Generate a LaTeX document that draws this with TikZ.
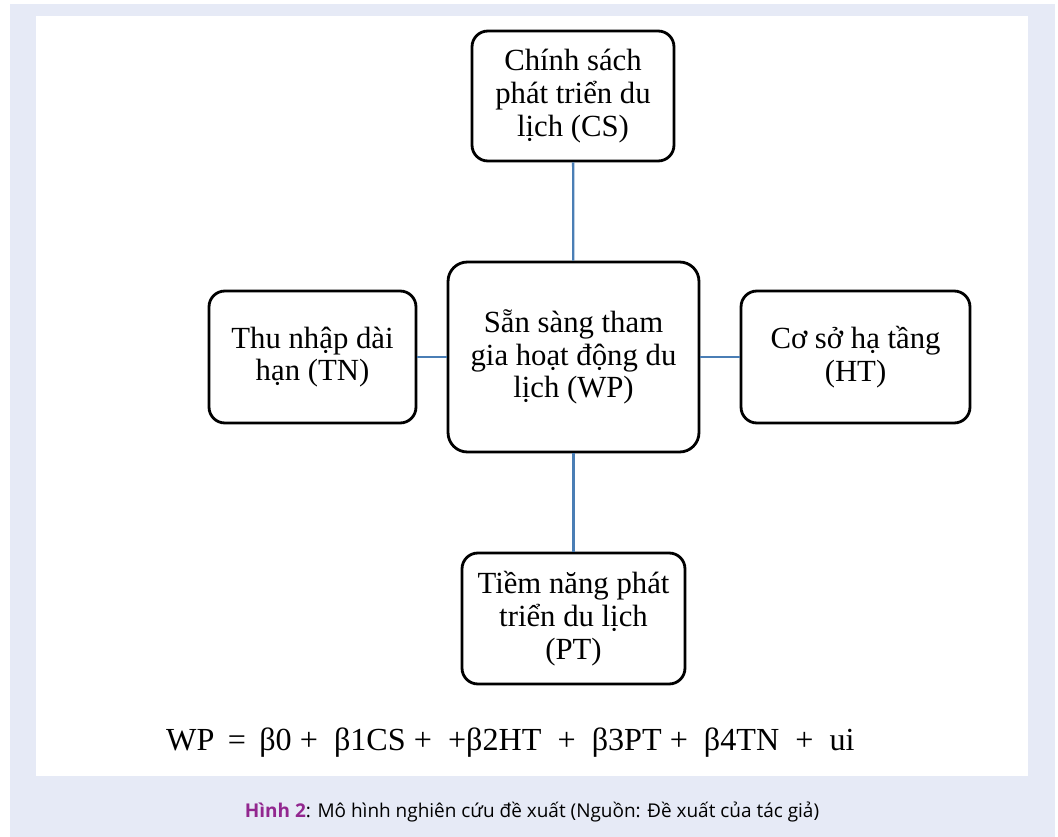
\documentclass[tikz,border=0pt]{standalone}
\usepackage{fontspec}
\setmainfont{Liberation Serif}
\newfontfamily\capfont{Open Sans}
\usetikzlibrary{positioning}
\definecolor{panelbg}{RGB}{230,234,246}
\definecolor{linkblue}{RGB}{74,126,181}
\definecolor{figpurple}{RGB}{146,39,143}
\begin{document}
\begin{tikzpicture}[x=0.02cm, y=-0.02cm,
      box/.style={draw, line width=1.6pt, rounded corners=9pt, align=center,
                  font=\fontsize{17.5}{18.6}\selectfont, inner sep=2pt},
      link/.style={draw=linkblue, line width=1.3pt}]

    % page and panels
    \useasboundingbox (0,0) rectangle (1058,837);
    \fill[panelbg] (10,4) rectangle (1055,837);
    \fill[white] (36,16) rectangle (1028,776);

    % centre box and the four factors around it
    \node[box, minimum width=5.02cm, minimum height=3.8cm, rounded corners=11pt]
        (wp) at (573.5,357) {Sẵn sàng tham\\gia hoạt động du\\lịch (WP)};
    \node[box, minimum width=4.04cm, minimum height=2.6cm] (cs) at (573,96)
        {Chính sách\\phát triển du\\lịch (CS)};
    \node[box, minimum width=4.14cm, minimum height=2.64cm] (tn) at (312.5,357)
        {Thu nhập dài\\hạn (TN)};
    \node[box, minimum width=4.58cm, minimum height=2.64cm] (ht) at (855.5,357)
        {Cơ sở hạ tầng\\(HT)};
    \node[box, minimum width=4.46cm, minimum height=2.62cm] (pt) at (573.5,618.5)
        {Tiềm năng phát\\triển du lịch\\(PT)};

    % links
    \draw[link] (cs) -- (wp);
    \draw[link] (wp) -- (pt);
    \draw[link] (tn) -- (wp);
    \draw[link] (wp) -- (ht);

    % model equation and caption
    \node[font=\fontsize{18.3}{20}\selectfont, anchor=base west] (eq) at (160,750)
        {WP \,=\, β0 + \ β1CS + \ +β2HT \ + \ β3PT + \ β4TN \ + \ ui};
    \node[font=\capfont\fontsize{10.8}{13}\selectfont] (cap) at (532,812)
        {\textcolor{figpurple}{\bfseries Hình 2}: Mô hình nghiên cứu đề xuất (Nguồn: Đề xuất của tác giả)};

\end{tikzpicture}
\end{document}
